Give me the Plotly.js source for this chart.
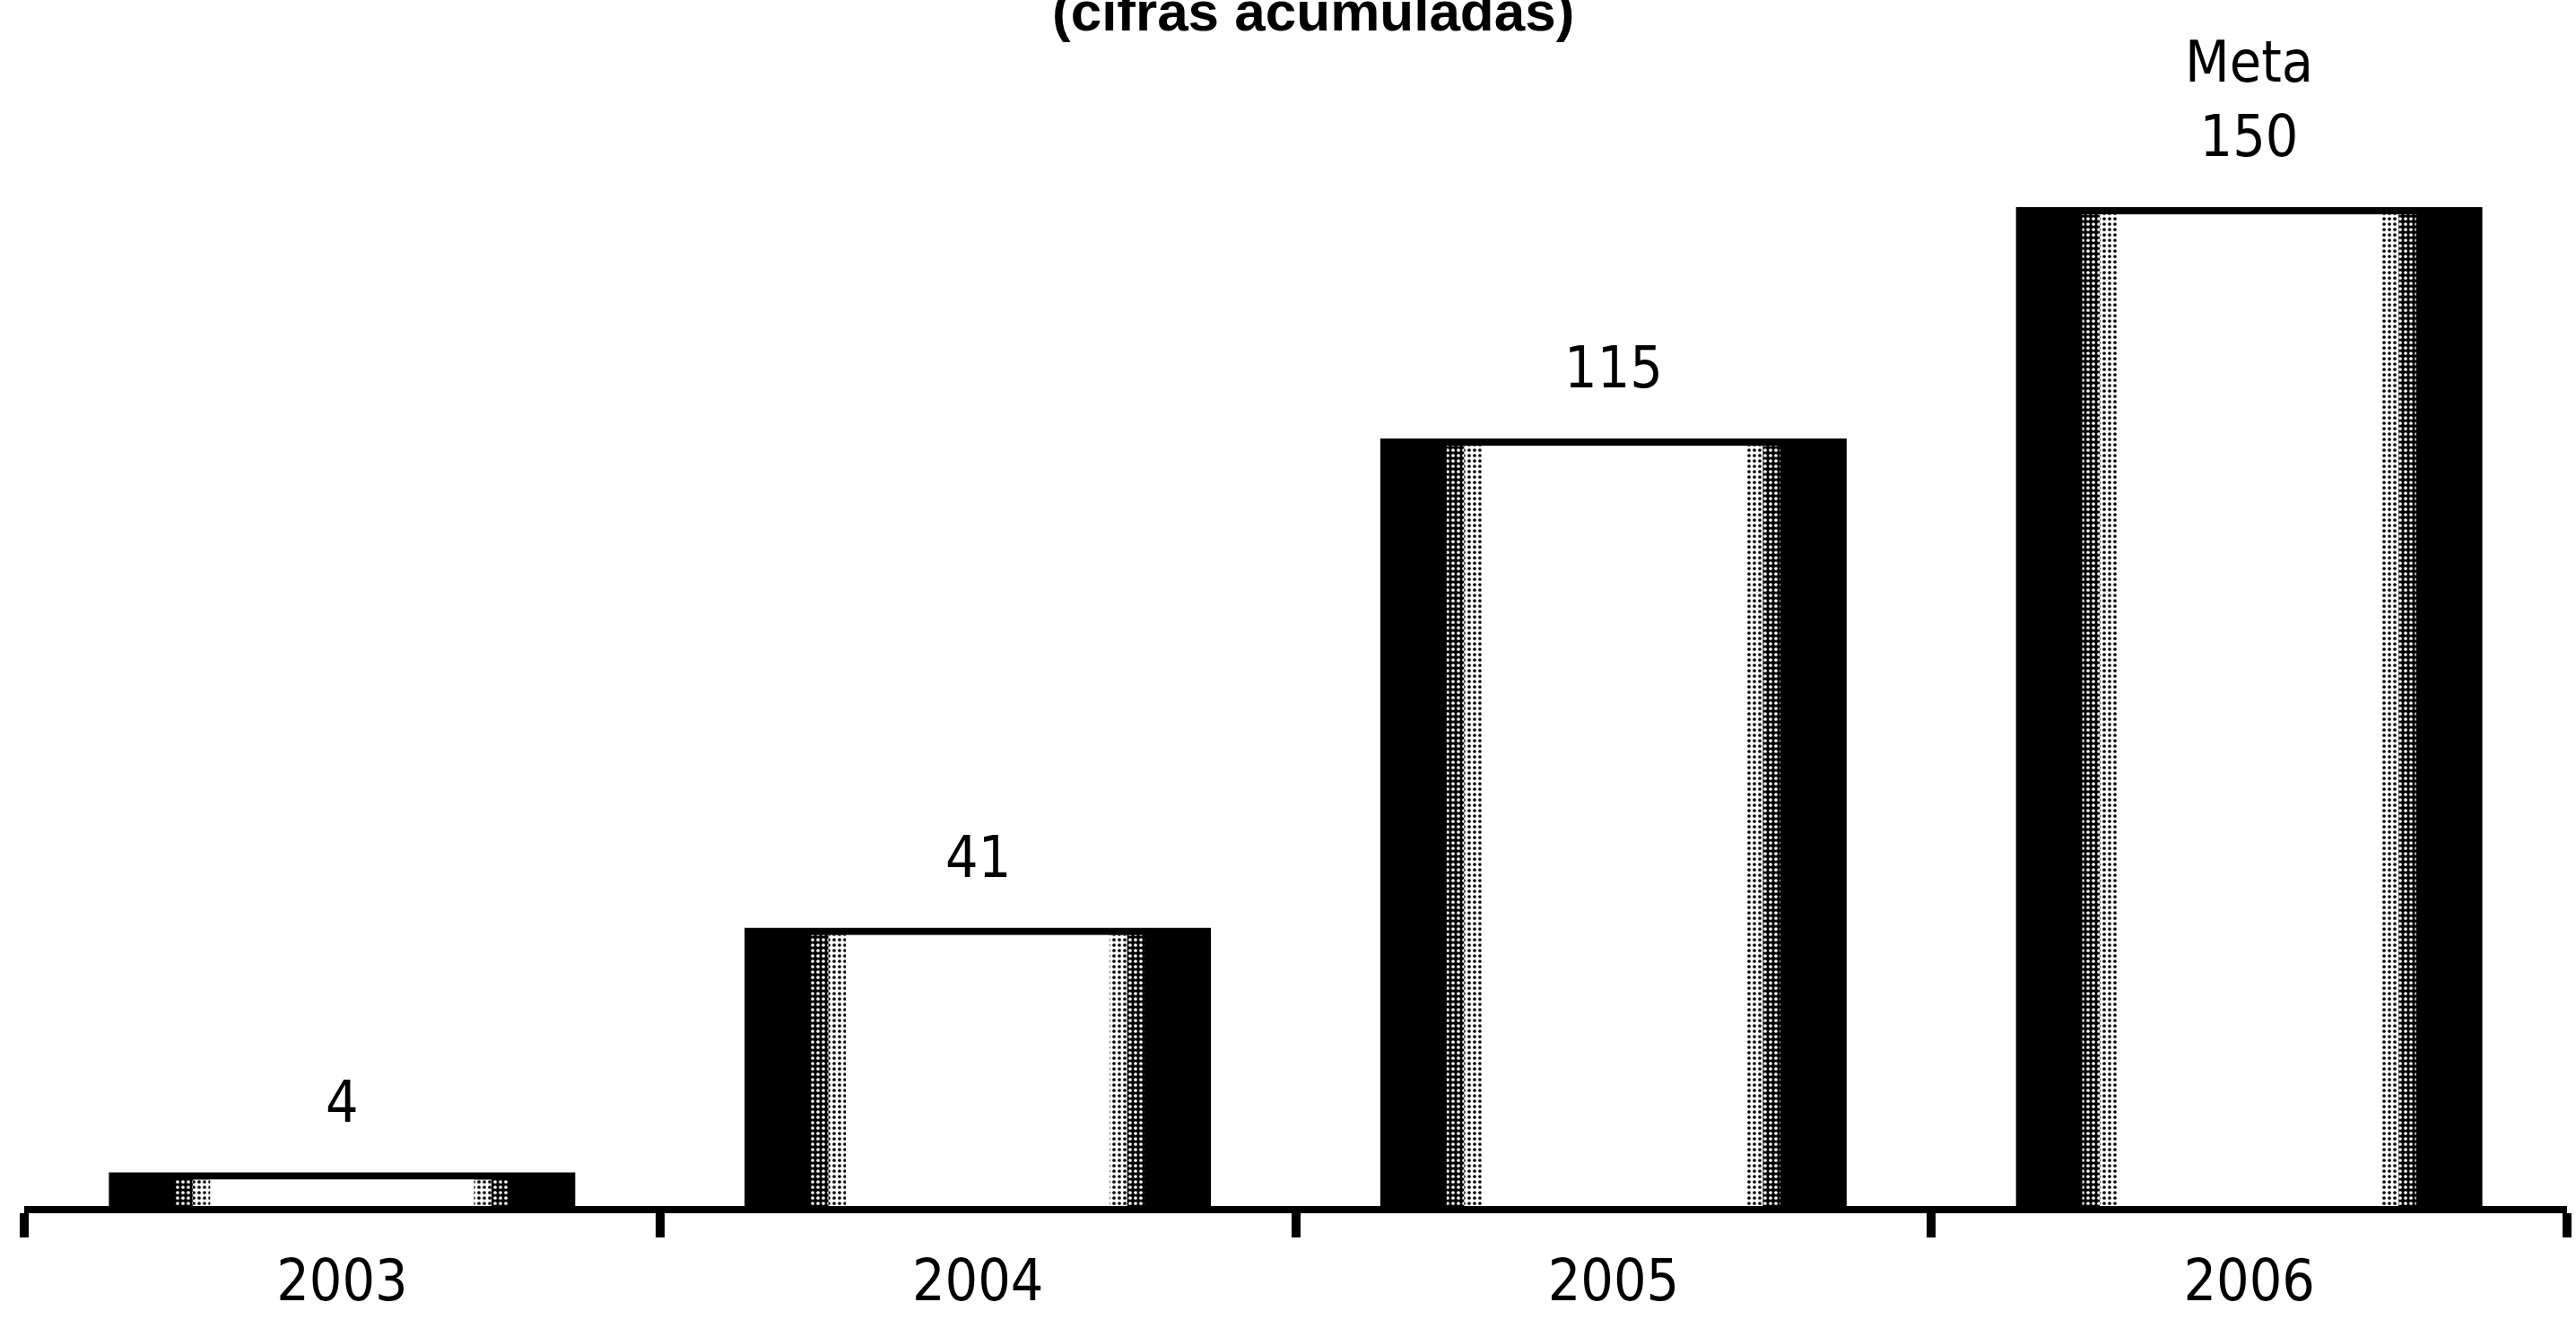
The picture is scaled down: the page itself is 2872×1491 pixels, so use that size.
<!DOCTYPE html>
<html>
<head>
<meta charset="utf-8">
<script src="https://cdn.plot.ly/plotly-3.0.1.min.js"></script>
<style>
  html, body { margin: 0; padding: 0; background: #ffffff; }
  #chart { width: 2872px; height: 1491px; }
</style>
</head>
<body>
<div id="chart"></div>
<script>
// ---- data ----
const categories = ['2003', '2004', '2005', '2006'];
const values = [4, 41, 115, 150];
const notes = ['', '', '', 'Meta'];
const chartTitle = '(cifras acumuladas)';

// ---- styles ----
const narrowFont = 'DejaVu Sans Condensed, Liberation Sans Narrow, sans-serif';
const boldFont = 'Liberation Sans, Arial, sans-serif';

const common = {
  type: 'bar',
  x: categories,
  y: values,
  hoverinfo: 'skip',
  showlegend: false
};

const traces = [
  // outer black body of each bar
  Object.assign({}, common, {
    width: 0.711,
    marker: { color: '#000000', line: { color: '#000000', width: 16 } }
  }),
  // dark dithered transition
  Object.assign({}, common, {
    width: 0.525,
    marker: {
      color: '#000000',
      line: { width: 0 },
      pattern: { shape: '.', bgcolor: '#000000', fgcolor: '#ffffff', size: 6, solidity: 0.3 }
    }
  }),
  // light dithered transition
  Object.assign({}, common, {
    width: 0.47,
    marker: {
      color: '#ffffff',
      line: { width: 0 },
      pattern: { shape: '.', bgcolor: '#ffffff', fgcolor: '#000000', size: 6, solidity: 0.3 }
    }
  }),
  // white highlight
  Object.assign({}, common, {
    width: 0.415,
    marker: { color: '#ffffff', line: { width: 0 } }
  })
];

// value labels (category axis: position by category index)
const annotations = categories.map((c, i) => ({
  x: i,
  y: values[i],
  xref: 'x',
  yref: 'y',
  text: (notes[i] ? notes[i] + '<br>' : '') + String(values[i]),
  showarrow: false,
  xanchor: 'center',
  yanchor: 'bottom',
  yshift: 48,
  font: { family: narrowFont, size: 64, color: '#000000' }
}));

annotations.push({
  x: 0.507,
  y: 1.076,
  xref: 'paper',
  yref: 'paper',
  text: '<b>' + chartTitle + '</b>',
  showarrow: false,
  xanchor: 'center',
  yanchor: 'top',
  font: { family: boldFont, size: 62, color: '#000000' }
});

const layout = {
  width: 2872,
  height: 1491,
  margin: { l: 27, r: 10, t: 73, b: 146, pad: 0 },
  paper_bgcolor: '#ffffff',
  plot_bgcolor: '#ffffff',
  barmode: 'overlay',
  showlegend: false,
  xaxis: {
    type: 'category',
    range: [-0.5, 3.5],
    showline: true,
    linecolor: '#000000',
    linewidth: 8,
    ticks: 'outside',
    tickson: 'boundaries',
    ticklen: 27,
    tickwidth: 10,
    tickcolor: '#000000',
    ticklabelstandoff: 20,
    tickfont: { family: narrowFont, size: 64, color: '#000000' },
    showgrid: false,
    zeroline: false,
    fixedrange: true
  },
  yaxis: {
    visible: false,
    range: [0, 172.5],
    showgrid: false,
    zeroline: false,
    fixedrange: true
  },
  annotations: annotations
};

Plotly.newPlot('chart', traces, layout, { staticPlot: true, displayModeBar: false });
</script>
</body>
</html>
